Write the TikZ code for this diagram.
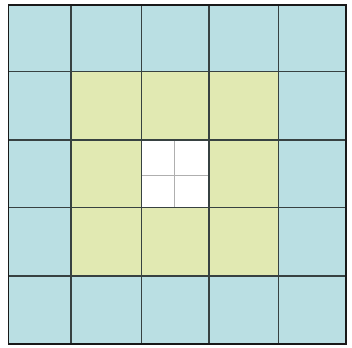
\documentclass[tikz,border=0pt]{standalone}
\definecolor{cellblue}{RGB}{186,223,227}
\definecolor{cellyel}{RGB}{225,233,178}
\definecolor{gridline}{RGB}{55,65,65}
\definecolor{innerline}{RGB}{175,175,175}
\tikzset{gline/.style={draw=gridline,line width=1.1pt},
  outer/.style={draw=black!90,line width=1.6pt},
  thin/.style={draw=innerline,line width=0.8pt}}
\begin{document}
\begin{tikzpicture}[x=1pt,y=-1pt]
\useasboundingbox (0,0) rectangle (352,347);
\coordinate (tl) at (8.3,5);
\coordinate (br) at (345.7,344);
\fill[cellblue] (tl) rectangle (br);
\fill[cellyel] (71,71.7) rectangle (278.3,276);
\fill[white] (141.7,140) rectangle (209,207.3);
\draw[thin] (174.5,140) -- (174.5,207.3);
\draw[thin] (141.7,175.5) -- (209,175.5);
\foreach \x in {71,141.7,209,278.3} \draw[gline] (\x,5) -- (\x,344);
\foreach \y in {71.7,140,207.3,276} \draw[gline] (8.3,\y) -- (345.7,\y);
\draw[outer] (tl) rectangle (br);
\end{tikzpicture}
\end{document}
